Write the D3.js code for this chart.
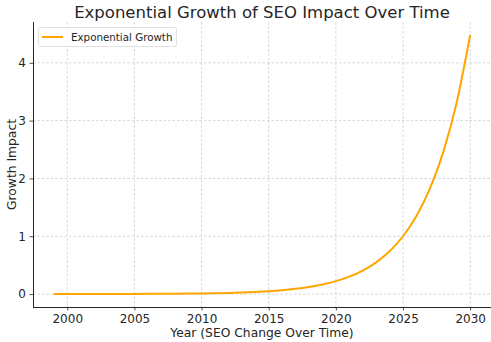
<!DOCTYPE html>
<html><head><meta charset="utf-8">
<script src="https://cdn.jsdelivr.net/npm/d3@7"></script>
<style>
body{margin:0;background:#fff;}
text{font-family:"DejaVu Sans",sans-serif;fill:#262626;}
</style></head>
<body><svg id="c" width="491" height="342"></svg>
<script>
const years = [1999,2000,2001,2002,2003,2004,2005,2006,2007,2008,2009,2010,2011,2012,2013,2014,2015,2016,2017,2018,2019,2020,2021,2022,2023,2024,2025,2026,2027,2028,2029,2030];
const impact = [0.0004,0.0006,0.0007,0.0010,0.0014,0.0018,0.0025,0.0034,0.0045,0.0061,0.0082,0.0111,0.0150,0.0202,0.0273,0.0369,0.0498,0.0672,0.0907,0.1225,0.1653,0.2231,0.3012,0.4066,0.5488,0.7408,1.0000,1.3499,1.8221,2.4596,3.3201,4.4817];
const xTicks = [2000,2005,2010,2015,2020,2025,2030];
const yTicks = [0,1,2,3,4];
const seriesName = "Exponential Growth";

const svg = d3.select("#c");
const L=33, R=491, T=22, B=307;
const x = d3.scaleLinear().domain([1997.45,2031.55]).range([L,R]);
const y = d3.scaleLinear().domain([-0.224,4.706]).range([B,T]);

// grid
svg.append("g").selectAll("line").data(xTicks).join("line")
  .attr("x1",d=>x(d)).attr("x2",d=>x(d)).attr("y1",T).attr("y2",B)
  .attr("stroke","#cccccc").attr("stroke-width",0.8).attr("stroke-dasharray","2.5,2");
svg.append("g").selectAll("line").data(yTicks).join("line")
  .attr("x1",L).attr("x2",R).attr("y1",d=>y(d)).attr("y2",d=>y(d))
  .attr("stroke","#cccccc").attr("stroke-width",0.8).attr("stroke-dasharray","2.5,2");

// line
const data = years.map((yr,i)=>({yr,v:impact[i]}));
svg.append("path").datum(data)
  .attr("d",d3.line().x(d=>x(d.yr)).y(d=>y(d.v)).curve(d3.curveMonotoneX))
  .attr("fill","none").attr("stroke","#FFA500").attr("stroke-width",2);

// axes
const xAxis = svg.append("g").attr("transform",`translate(0,${B})`)
  .call(d3.axisBottom(x).tickValues(xTicks).tickFormat(d3.format("d")).tickSize(3.5).tickPadding(3.5));
const yAxis = svg.append("g").attr("transform",`translate(${L},0)`)
  .call(d3.axisLeft(y).tickValues(yTicks).tickFormat(d3.format("d")).tickSize(3.5).tickPadding(3.5));
[xAxis,yAxis].forEach(a=>{
  a.select(".domain").attr("stroke","#262626").attr("stroke-width",1);
  a.selectAll(".tick line").attr("stroke","#262626").attr("stroke-width",0.8);
  a.selectAll(".tick text").style("font-size","12px").style("font-family","DejaVu Sans").attr("fill","#262626");
});
xAxis.select(".domain").attr("d",`M${L},0.5H${R}`);
yAxis.select(".domain").attr("d",`M0.5,${B}V${T}`);

// labels
svg.append("text").attr("x",(L+R)/2).attr("y",18).attr("text-anchor","middle")
  .style("font-size","16.5px").text("Exponential Growth of SEO Impact Over Time");
svg.append("text").attr("x",(L+R)/2).attr("y",337).attr("text-anchor","middle")
  .style("font-size","12.3px").text("Year (SEO Change Over Time)");
svg.append("text").attr("transform",`translate(16,${(T+B)/2}) rotate(-90)`).attr("text-anchor","middle")
  .style("font-size","12.3px").text("Growth Impact");

// legend
const lg = svg.append("g");
lg.append("rect").attr("x",38.5).attr("y",27.5).attr("width",138).attr("height",19).attr("rx",2)
  .attr("fill","white").attr("fill-opacity",0.8).attr("stroke","#d9d9d9").attr("stroke-width",0.8);
lg.append("line").attr("x1",42).attr("x2",63).attr("y1",37).attr("y2",37).attr("stroke","#FFA500").attr("stroke-width",2);
lg.append("text").attr("x",71).attr("y",40.8).style("font-size","10.3px").text(seriesName);
</script></body></html>
